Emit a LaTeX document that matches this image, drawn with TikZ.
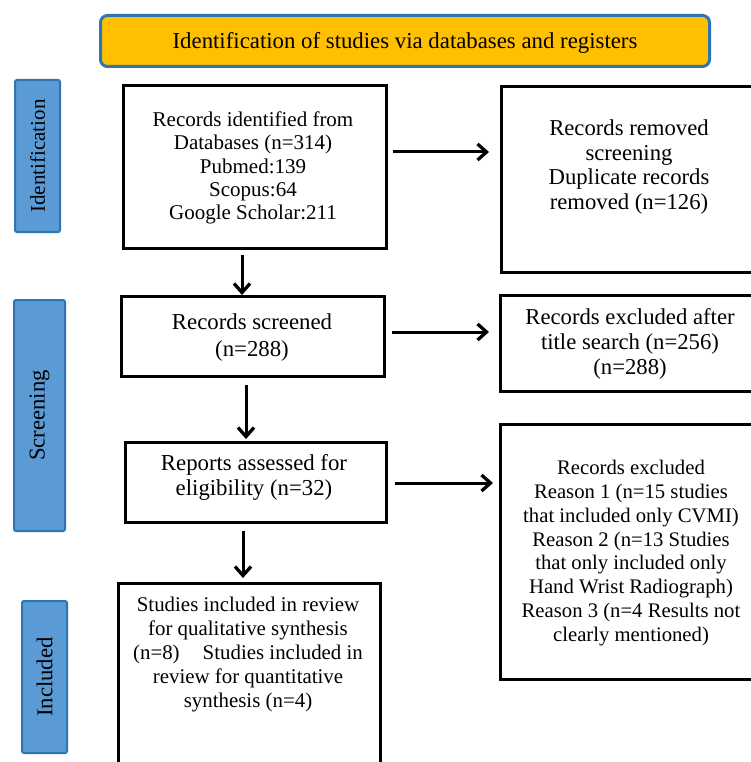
\documentclass[tikz,border=0pt]{standalone}
\usepackage{fontspec}
\setmainfont{Liberation Serif}
\usetikzlibrary{arrows.meta}
\definecolor{bannerfill}{HTML}{FFC000}
\definecolor{sidefill}{HTML}{5B9BD5}
\definecolor{sideline}{HTML}{2E75B6}
\tikzset{
  box/.style={draw=black, line width=3pt, fill=white, inner sep=0pt, anchor=north west},
  txt/.style={align=center, inner sep=0pt},
  sidebox/.style={draw=sideline, line width=2pt, fill=sidefill, rounded corners=2pt, inner sep=0pt, anchor=north west},
  sidetxt/.style={rotate=90, inner sep=0pt},
  arr/.style={line width=3pt, -{Straight Barb[length=9pt,width=16pt,line width=3.3pt]}},
}
\begin{document}
\begin{tikzpicture}[x=1pt,y=1pt]
\clip (0,0) rectangle (751,-762);
\fill[white] (0,0) rectangle (751,-762);
% banner
\node[draw=sideline, line width=3pt, fill=bannerfill, rounded corners=7pt, minimum width=609pt, minimum height=51pt, inner sep=0pt, anchor=north west] (banner) at (99,-14) {};
\node[txt, font=\fontsize{22.8}{26}\selectfont] (bannert) at ([yshift=-2pt]banner.center) {Identification of studies via databases and registers};
% side boxes
\node[sidebox, minimum width=45pt, minimum height=152pt] (sid) at (14,-79) {};
\node[sidetxt, font=\fontsize{21}{24}\selectfont] (sidt) at (sid.center) {Identification};
\node[sidebox, minimum width=51pt, minimum height=231pt] (ssc) at (13,-299) {};
\node[sidetxt, font=\fontsize{22.7}{26}\selectfont] (ssct) at (ssc.center) {Screening};
\node[sidebox, minimum width=45pt, minimum height=152pt] (sin) at (21,-600) {};
\node[sidetxt, font=\fontsize{22.7}{26}\selectfont] (sint) at (sin.center) {Included};
% left boxes
\node[box, minimum width=263pt, minimum height=163pt] (b1) at (122,-84) {};
\node[txt, font=\fontsize{21}{23.2}\selectfont] (b1t) at (253,-168) {Records identified from\\Databases (n=314)\\Pubmed:139\\Scopus:64\\Google Scholar:211};
\node[box, minimum width=263pt, minimum height=80pt] (b2) at (120,-295) {};
\node[txt, font=\fontsize{22.8}{27}\selectfont] (b2t) at (252,-338) {Records screened\\(n=288)};
\node[box, minimum width=261pt, minimum height=80pt] (b3) at (124,-441) {};
\node[txt, font=\fontsize{22.8}{25}\selectfont] (b3t) at (254,-477) {Reports assessed for\\eligibility (n=32)};
\node[box, minimum width=262pt, minimum height=200pt] (b4) at (117,-582) {};
\node[txt, font=\fontsize{20.9}{24}\selectfont] (b4t) at (248,-654) {Studies included in review\\for qualitative synthesis\\(n=8)\hspace{1.1em}Studies included in\\review for quantitative\\synthesis (n=4)};
% right boxes
\node[box, minimum width=260pt, minimum height=186pt] (r1) at (500,-85) {};
\node[txt, font=\fontsize{22.7}{24.6}\selectfont] (r1t) at (629,-167) {Records removed\\screening\\Duplicate records\\removed (n=126)};
\node[box, minimum width=260pt, minimum height=96pt] (r2) at (499,-294) {};
\node[txt, font=\fontsize{22.7}{25}\selectfont] (r2t) at (630,-344) {Records excluded after\\title search (n=256)\\(n=288)};
\node[box, minimum width=260pt, minimum height=255pt] (r3) at (499,-423) {};
\node[txt, font=\fontsize{20.7}{23.8}\selectfont] (r3t) at (631,-553) {Records excluded\\Reason 1 (n=15 studies\\that included only CVMI)\\Reason 2 (n=13 Studies\\that only included only\\Hand Wrist Radiograph)\\Reason 3 (n=4 Results not\\clearly mentioned)};
% arrows
\coordinate (a1s) at (393,-152); \coordinate (a1e) at (489,-152);
\draw[arr] (a1s) -- (a1e);
\coordinate (a2s) at (392,-332); \coordinate (a2e) at (489,-332);
\draw[arr] (a2s) -- (a2e);
\coordinate (a3s) at (395,-483); \coordinate (a3e) at (493,-483);
\draw[arr] (a3s) -- (a3e);
\draw[arr] ([xshift=120pt,yshift=-5pt]b1.south west) -- ([xshift=122pt]b2.north west);
\draw[arr] ([xshift=126pt,yshift=-7pt]b2.south west) -- ([xshift=122pt,yshift=2pt]b3.north west);
\draw[arr] ([xshift=119pt,yshift=-7pt]b3.south west) -- ([xshift=126pt,yshift=4pt]b4.north west);
\end{tikzpicture}
\end{document}
